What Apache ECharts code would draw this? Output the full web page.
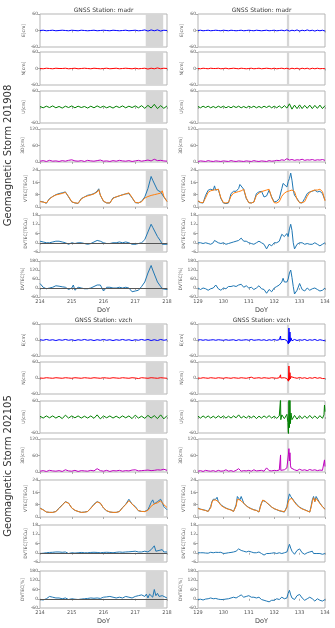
<!DOCTYPE html>
<html><head><meta charset="utf-8">
<script src="https://cdn.jsdelivr.net/npm/echarts@6/dist/echarts.min.js"></script>
<style>html,body{margin:0;padding:0;background:#fff}#c{width:335px;height:628px}</style>
</head><body><div id="c"></div>
<script>
// ---------------- DATA ----------------
const stationNames = ['GNSS Station: madr', 'GNSS Station: vzch'];
const stormLabels = ['Geomagnetic Storm 201908', 'Geomagnetic Storm 202105'];
const yNames = ['E[cm]','N[cm]','U[cm]','3D[cm]','VTEC[TECu]','DVTEC[TECu]','DVTEC[%]'];
const yMins = [-60,-60,-60,0,0,-6,-60];
const yMaxs = [60,60,60,120,24,18,180];
const yIntervals = [60,60,120,60,8,6,60];
const xRangeLeft = [214, 218];
const xRangeRight = [129, 134];
const shadeTL = [217.33, 217.88];
const shadeBL = [217.33, 217.9];
const shadeR = [132.5, 132.59];

// GNSS sample times
const gnssT_L = [214.0,214.1,214.2,214.3,214.4,214.5,214.6,214.7,214.8,214.9,215.0,215.1,215.2,215.3,215.4,215.5,215.6,215.7,215.8,215.9,216.0,216.1,216.2,216.3,216.4,216.5,216.6,216.7,216.8,216.9,217.0,217.1,217.2,217.3,217.4,217.5,217.6,217.7,217.8,217.9,218.0];
const gnssT_TR = [129.0,129.1,129.2,129.3,129.4,129.5,129.6,129.7,129.8,129.9,130.0,130.1,130.2,130.3,130.4,130.5,130.6,130.7,130.8,130.9,131.0,131.1,131.2,131.3,131.4,131.5,131.6,131.7,131.8,131.9,132.0,132.1,132.2,132.3,132.4,132.5,132.6,132.7,132.8,132.9,133.0,133.1,133.2,133.3,133.4,133.5,133.6,133.7,133.8,133.9,134.0];
const gnssT_BR = [129.0,129.1,129.2,129.3,129.4,129.5,129.6,129.7,129.8,129.9,130.0,130.1,130.2,130.3,130.4,130.5,130.6,130.7,130.8,130.9,131.0,131.1,131.2,131.3,131.4,131.5,131.6,131.7,131.8,131.9,132.0,132.1,132.2,132.24,132.25,132.26,132.3,132.4,132.5,132.54,132.56,132.58,132.6,132.62,132.64,132.66,132.7,132.8,132.9,133.0,133.1,133.2,133.3,133.4,133.5,133.6,133.7,133.8,133.9,133.96,133.98,134.0];

// madr 2019 (top-left)
const E_TL = [0,1,-1,0,1,-1,0,1,0,-1,1,0,-1,1,0,-1,0,1,-1,0,1,0,-1,1,0,-1,0,1,-1,0,1,-1,0,2,-2,2,-1,2,-2,1,0];
const N_TL = [0,-1,1,0,-1,1,0,0,1,-1,0,1,-1,0,1,0,-1,1,0,-1,0,1,-1,0,1,-1,0,1,0,-1,1,-1,0,1,-2,1,-1,2,-1,1,0];
const U_TL = [2,-3,3,-2,4,-3,2,-4,3,-2,4,-3,3,-2,2,-4,3,-3,4,-2,3,-3,2,-4,3,-2,4,-3,3,-2,4,-3,5,-5,6,-4,10,-6,5,-5,4];
const D_TL = [3,5,2,6,3,4,2,5,3,6,8,4,3,5,2,6,4,3,5,7,3,4,2,5,3,6,4,3,5,2,4,6,3,5,7,4,10,5,6,4,3];
// madr 2021 (top-right)
const E_TR = [0,1,-1,0,1,-1,0,1,0,-1,1,0,-1,1,0,-1,0,1,-1,0,1,0,-1,1,0,-1,0,1,-1,0,1,-1,0,1,-1,2,-2,1,-1,2,-2,1,-1,2,-1,1,-2,1,-1,1,-2];
const N_TR = [0,-1,1,0,-1,1,0,0,1,-1,0,1,-1,0,1,0,-1,1,0,-1,0,1,-1,0,1,-1,0,1,0,-1,1,-1,0,1,-1,1,-2,1,-1,1,-2,1,-1,1,-2,1,-1,1,-1,0,-1];
const U_TR = [2,-3,3,-2,3,-3,2,-3,3,-2,3,-3,2,-3,3,-2,3,-3,2,-3,3,-2,3,-3,2,-3,3,-2,4,-3,3,-3,4,-4,5,-4,12,-8,7,-6,8,-6,6,-5,7,-6,6,-5,7,-6,5];
const D_TR = [2,4,3,2,5,3,2,4,3,2,4,3,2,5,3,2,4,3,2,4,3,2,5,3,2,4,3,2,5,3,4,6,5,8,6,12,7,9,6,8,7,10,6,8,7,9,6,8,7,9,6];
// vzch 2019 (bottom-left)
const E_BL = [1,-1,2,-1,1,-2,1,-1,2,-1,1,-2,1,-1,2,-1,1,-2,1,-1,2,-1,1,-2,1,-1,2,-1,1,-2,1,-1,2,-1,2,-2,1,-2,2,-1,1];
const N_BL = [0,-1,1,0,-1,1,0,-1,1,0,-1,1,0,-1,1,0,-1,1,0,-1,1,0,-1,1,0,-1,1,0,-1,1,0,-2,1,0,-1,1,0,-1,1,0,-1];
const U_BL = [3,-4,4,-3,4,-4,3,-6,7,-4,4,-3,4,-4,3,-4,4,-5,8,-7,4,-3,4,-4,3,-4,4,-3,4,-6,7,-4,3,-5,6,-4,5,-6,8,-7,5];
const D_BL = [3,5,2,6,4,3,5,2,8,4,3,6,2,5,4,3,6,4,12,5,3,6,2,5,4,6,3,5,4,7,8,4,5,6,7,5,6,8,7,10,6];
// vzch 2021 (bottom-right)
const E_BR = [0,1,-1,1,-1,0,1,-1,1,0,-1,1,-1,0,1,-2,1,-1,0,1,-1,2,-1,0,1,-1,1,-2,1,-1,2,-1,1,2,15,1,-1,2,-2,5,-15,45,-10,30,-5,8,-3,2,-2,1,-1,2,-2,1,-1,2,-2,1,-1,2,-3,1];
const N_BR = [0,-1,1,0,-1,1,0,-1,1,0,-1,1,0,-1,1,0,-1,1,0,-1,1,3,-1,0,1,-1,1,0,-1,1,0,-1,1,1,12,0,-1,1,-2,3,-12,45,-8,20,-3,5,-2,1,-1,2,-1,1,-2,1,-1,2,-1,1,-2,1,-2,0];
const U_BR = [3,-4,4,-3,4,-4,3,-4,4,-3,4,-4,3,-4,4,-3,8,-4,3,-4,4,-3,4,-6,3,-4,4,-3,5,-4,3,-5,4,10,70,-10,8,-6,10,-20,-70,70,-40,70,-25,15,-10,6,-8,5,-6,4,-5,6,-5,4,-6,5,-5,8,45,20];
const D_BR = [3,5,2,6,4,3,5,2,6,3,4,8,3,5,2,6,12,3,5,4,6,3,8,4,5,6,3,15,5,4,6,5,7,8,62,6,10,8,15,20,65,85,40,70,25,15,12,8,5,10,6,8,5,9,6,8,5,7,6,10,44,20];

// TEC sample times
const tecT_TL = [214.0,214.1,214.2,214.3,214.4,214.5,214.6,214.7,214.8,214.85,214.9,215.0,215.05,215.1,215.2,215.3,215.4,215.5,215.6,215.7,215.8,215.85,215.9,216.0,216.05,216.1,216.2,216.3,216.4,216.5,216.6,216.7,216.8,216.85,216.9,217.0,217.1,217.2,217.3,217.4,217.5,217.55,217.6,217.7,217.8,217.85,217.9,218.0];
const vtecObs_TL = [3.7,3.3,2.4,5.5,6.8,8,8.7,9.2,9.8,10.9,6.5,3.3,3.0,2.6,2.3,5.5,6.5,7.6,8,8.7,10.2,11.8,7.6,3.7,3.0,2.6,2.6,5.9,6.5,7.2,8,8.5,8.7,9.8,5.9,2.8,2.6,3.7,6.5,12,19.8,17.4,18,10.9,9.8,10.2,6.5,3.7];
const vtecRef_TL = [3.5,3.2,2.6,5.2,6.8,7.8,8.3,8.8,9.5,10.5,6.8,3.4,3.1,2.7,2.4,5.2,6.5,7.2,7.8,8.5,9.7,11.2,7.8,3.8,3.1,2.7,2.6,5.6,6.6,7.3,7.8,8.5,9.2,10.3,6.2,3.0,2.7,3.4,5.8,6.8,7.5,7.8,8.0,8.5,9.0,10.5,7.0,3.5];
const dvtec_TL = [1,0.5,0,0,0.5,1,1,0.5,0,0.3,-1,0,-0.3,-0.5,0,0,-0.5,-1,-0.5,0.5,1.5,1.8,1,0,-0.3,-0.5,-0.5,0,0,0.5,0,0.5,0,0.2,-1,-1,-0.5,0,2,7,12,10,10.5,4,1,-1,-1.5,-1];
const dvtecPct_TL = [30,5,-5,0,5,15,12,8,5,3,-10,0,20,-15,5,0,-5,-5,0,10,20,30,20,-20,-10,5,5,0,0,5,0,5,0,-5,-25,-20,-15,10,40,100,150,120,120,40,10,-5,-10,-10];

const tecT_TR = [129.0,129.1,129.2,129.3,129.4,129.5,129.6,129.65,129.7,129.8,129.9,130.0,130.1,130.2,130.3,130.4,130.5,130.6,130.65,130.7,130.8,130.9,131.0,131.1,131.2,131.3,131.4,131.5,131.6,131.7,131.8,131.9,132.0,132.1,132.2,132.3,132.35,132.4,132.5,132.55,132.6,132.65,132.7,132.75,132.8,132.85,132.9,133.0,133.05,133.1,133.2,133.3,133.4,133.5,133.6,133.7,133.8,133.9,134.0];
const vtecObs_TR = [3.7,2.8,2.6,7.6,10.9,11.5,10.9,13.7,10.9,11.5,5.5,2.6,2.2,2.6,8.7,10.2,10.2,12,14.6,13.7,11.5,5.5,2.8,2.6,3.3,8.7,9.8,10.2,6.5,7.2,10.9,6.5,3.3,3.7,5.5,12,15.3,14.2,13,16.4,18.5,22,17.4,10.9,7.6,6.5,5.5,2.8,2.7,2.6,5.5,8.7,9.8,10.2,10.9,9.8,10.2,8.7,4.4];
const vtecRef_TR = [4,3,2.8,6,9.5,10.5,11,11.1,11.2,11.5,6,2.8,2.6,3,7,9,9.5,10,10.2,10.5,11.5,6,2.8,2.6,3.2,7.5,9,10,10.5,11,11.5,6,2.8,2.6,3.5,7,8,9,10,10.2,10.5,10.8,11,10.8,10,7.5,5,2.8,2.8,2.8,3.5,7,9.5,10.5,11,11,11.5,10,4];
const dvtec_TR = [0,0,-0.5,0,-0.5,-1,0,1.5,2.4,0,-0.5,0,-1,-0.5,0,0.5,1,1.5,2.5,3,1,1,0,-0.5,-1,0,1,0,-1,-4,-1,-2,0,0,1,5.5,5,4,6,4,9,12,8,0,-4,-3,-1,0,0.5,0,-1,-0.5,-1,-1,0,-1,-2,-1,0];
const dvtecPct_TR = [0,-10,0,-5,-15,-5,0,10,20,-5,-15,0,-5,10,10,15,10,20,22,25,5,15,0,5,-10,0,15,-5,-10,-35,-10,-25,0,10,20,40,65,40,40,60,100,120,70,10,-40,-45,-15,30,10,-10,-20,0,-15,-5,0,-10,-20,-15,0];

const tecT_BL = [214.0,214.1,214.2,214.3,214.4,214.5,214.6,214.7,214.8,214.85,214.9,215.0,215.1,215.2,215.3,215.4,215.5,215.6,215.7,215.8,215.85,215.9,216.0,216.1,216.2,216.3,216.4,216.5,216.6,216.7,216.8,216.85,216.9,217.0,217.1,217.2,217.3,217.35,217.4,217.45,217.5,217.55,217.6,217.65,217.7,217.75,217.8,217.85,217.9,218.0];
const vtecObs_BL = [5.8,4.7,3.2,3,3,3.6,5.8,7.9,10,10.7,9,5.8,4.3,3.6,3,3.2,3.6,5.8,8.3,10,10.7,9,5.8,4,3.2,3,3,3.6,6.2,8.3,11.5,10,8.3,6.8,4,3.6,3.6,4,4.7,7,9.4,11.1,8.5,9,10,11,11.5,9.4,6.8,4.7];
const vtecRef_BL = [5.6,4.6,3.3,3.0,3.0,3.5,5.5,7.6,9.8,10.4,9.0,5.9,4.4,3.6,3.0,3.1,3.5,5.6,8.0,9.8,10.4,9.0,5.9,4.1,3.3,3.0,3.0,3.5,6.0,8.0,10.6,10.0,8.5,6.2,4.2,3.6,3.5,3.8,4.3,5.5,7.0,7.8,8.5,8.8,9.2,9.8,10.5,10.0,8.0,6.2];
const dvtec_BL = [-0.5,-0.3,0,0.2,0.3,0.5,0.5,0.3,0.5,0.3,-0.5,0,-0.2,0,0.2,0,0,0.2,0.3,0.2,0.3,0,0.2,0.3,0.2,0,0.3,0.5,0.3,0.5,0.6,0.5,0.8,1,0.5,0.5,1,0.8,0.5,1.5,2,1.5,4.5,1,2,1.5,1,2,0.5,0.5];
const dvtecPct_BL = [-5,-8,0,15,10,5,5,0,5,3,-5,0,-3,-5,-2,0,2,5,3,5,4,2,10,12,15,10,5,10,5,15,10,8,5,15,20,25,15,30,5,30,40,10,60,20,35,15,15,20,10,5];

const tecT_BR = [129.0,129.1,129.2,129.3,129.4,129.45,129.5,129.55,129.6,129.65,129.7,129.75,129.8,129.9,130.0,130.1,130.2,130.3,130.4,130.45,130.5,130.55,130.6,130.65,130.7,130.8,130.9,131.0,131.1,131.2,131.3,131.4,131.45,131.5,131.55,131.6,131.65,131.7,131.8,131.9,132.0,132.1,132.2,132.3,132.4,132.5,132.55,132.6,132.65,132.7,132.8,132.9,133.0,133.1,133.2,133.3,133.4,133.45,133.5,133.55,133.6,133.65,133.7,133.8,133.9,134.0];
const vtecObs_BR = [5.8,5.1,4.7,4.3,3.6,3.2,6.8,10,11.5,10.5,11.5,12.8,10,7.9,6.8,5.8,5.1,4.7,3.6,3.2,7.9,13.3,12.8,11.1,13.3,9,7.3,6.2,5.4,4.7,4.3,3.2,6.8,9,10.7,11.5,10,10.7,7.9,6.4,5.4,4.7,4,3.6,3.2,6.8,11.5,15,13.3,14.3,10,7.9,6.4,5.4,4.7,4,3.2,6.8,11.1,13.3,10,13.3,12.2,9,6.8,5.1];
const vtecRef_BR = [5.5,5.0,4.6,4.2,3.6,3.3,6.0,9.5,11.0,10.5,11.0,12.0,10.0,7.6,6.4,5.6,5.0,4.5,3.6,3.3,7.0,11.5,12.0,11.0,12.0,9.0,7.2,6.0,5.2,4.6,4.2,3.3,6.0,9.0,11.0,11.5,10.2,10.5,8.0,6.5,5.4,4.8,4.2,3.8,3.4,6.0,9.5,11.5,11.0,12.0,9.5,7.5,6.2,5.2,4.6,3.9,3.2,6.0,10.0,12.5,10.0,12.0,11.5,8.8,6.6,5.0];
const dvtec_BR = [0,0,0,-0.2,-0.3,-0.2,0.3,0.2,0,0,0.3,0.5,0.2,0.3,-0.5,-0.3,0,0.2,0.5,0.3,1,2,2.5,1.8,1.5,1,0.5,1,0.5,0,0,0.5,0.3,-0.5,-1,-1.5,-0.8,-0.5,-0.5,-0.3,0,-0.5,0,-0.5,0,0.5,3,5.5,3,1,-1,1.5,2.5,0,-1,0,0.5,0.8,1,-0.5,-1,-0.5,-0.5,-0.5,-1,-0.5];
const dvtecPct_BR = [-5,-3,-8,-2,0,-2,5,3,0,-3,2,-5,-3,-5,-5,-2,0,5,10,8,5,15,15,20,25,10,15,20,10,10,5,10,5,-5,-5,-10,-8,-15,-20,-10,-10,0,-5,10,0,5,35,55,25,5,-5,20,28,5,-10,0,10,5,0,-5,-15,-5,0,-10,-15,-5];

// ---------------- LAYOUT / STYLE ----------------
const colLeft = [40, 198];
const colWidth = 127;
const halfTops = [[14,52,91,129,170,215,261],[324,362,401,439,480,525,571]];
const halfHeights = [[33,33,32,33,37,37,36],[32,32,32,33,37,37,37]];
const colors = {E:'#0000ff', N:'#ff0000', U:'#008000', D:'#bf00bf', obs:'#1f77b4', ref:'#ff7f0e'};
const FONT = 'DejaVu Sans';

const blocks = [
  {col:0, half:0, xr:xRangeLeft, shade:shadeTL, gT:gnssT_L, E:E_TL, N:N_TL, U:U_TL, D:D_TL, tT:tecT_TL, vo:vtecObs_TL, vr:vtecRef_TL, dv:dvtec_TL, dvp:dvtecPct_TL, zero:true},
  {col:1, half:0, xr:xRangeRight, shade:shadeR, gT:gnssT_TR, E:E_TR, N:N_TR, U:U_TR, D:D_TR, tT:tecT_TR, vo:vtecObs_TR, vr:vtecRef_TR, dv:dvtec_TR, dvp:dvtecPct_TR, zero:false},
  {col:0, half:1, xr:xRangeLeft, shade:shadeBL, gT:gnssT_L, E:E_BL, N:N_BL, U:U_BL, D:D_BL, tT:tecT_BL, vo:vtecObs_BL, vr:vtecRef_BL, dv:dvtec_BL, dvp:dvtecPct_BL, zero:true},
  {col:1, half:1, xr:xRangeRight, shade:shadeR, gT:gnssT_BR, E:E_BR, N:N_BR, U:U_BR, D:D_BR, tT:tecT_BR, vo:vtecObs_BR, vr:vtecRef_BR, dv:dvtec_BR, dvp:dvtecPct_BR, zero:false}
];

const grid = [], xAxis = [], yAxis = [], series = [];
const tickStyle = {show:true, length:2, lineStyle:{color:'#999', width:0.8}};

function line(idx, t, v, color, extra) {
  return Object.assign({
    type:'line', xAxisIndex:idx, yAxisIndex:idx,
    data: t.map((x,i)=>[x, v[i]]),
    showSymbol:false, symbol:'none', silent:true, animation:false, z:3,
    lineStyle:{color:color, width:1}, itemStyle:{color:color}
  }, extra || {});
}

blocks.forEach(b => {
  for (let r = 0; r < 7; r++) {
    const idx = grid.length;
    const gnss = r < 4;
    grid.push({left: colLeft[b.col], top: halfTops[b.half][r], width: colWidth, height: halfHeights[b.half][r],
      show:true, borderColor:'#b5b5b5', borderWidth:1, containLabel:false});
    xAxis.push({type:'value', gridIndex:idx, min:b.xr[0], max:b.xr[1], interval:1,
      axisLine:{show:false}, axisTick:tickStyle, splitLine:{show:false},
      axisLabel:{show: r===6, fontSize:5, color:'#555', margin:2, fontFamily:FONT},
      name: r===6 ? 'DoY' : '', nameLocation:'middle', nameGap:10,
      nameTextStyle:{fontSize:6.5, color:'#444', fontFamily:FONT}});
    yAxis.push({type:'value', gridIndex:idx, min:yMins[r], max:yMaxs[r], interval:yIntervals[r],
      axisLine:{show:false}, axisTick:tickStyle, splitLine:{show:false},
      axisLabel:{fontSize:4.5, color:'#555', margin:2, fontFamily:FONT},
      name: yNames[r], nameLocation:'middle', nameGap: gnss ? 14 : 8,
      nameTextStyle:{fontSize:4.5, color:'#555', fontFamily:FONT}});
    const shadeArea = {silent:true, itemStyle:{color:'#d6d6d6'}, data:[[{xAxis:b.shade[0]},{xAxis:b.shade[1]}]]};
    const zeroLine = {silent:true, symbol:['none','none'], label:{show:false},
      lineStyle:{color:'#555', width:1, type:'solid'}, data:[{yAxis:0}]};
    if (r === 0) series.push(line(idx, b.gT, b.E, colors.E, {markArea:shadeArea}));
    if (r === 1) series.push(line(idx, b.gT, b.N, colors.N, {markArea:shadeArea}));
    if (r === 2) series.push(line(idx, b.gT, b.U, colors.U, {markArea:shadeArea}));
    if (r === 3) series.push(line(idx, b.gT, b.D, colors.D, {markArea:shadeArea}));
    if (r === 4) {
      series.push(line(idx, b.tT, b.vo, colors.obs, {markArea:shadeArea}));
      series.push(line(idx, b.tT, b.vr, colors.ref, {z:4}));
    }
    if (r === 5) series.push(line(idx, b.tT, b.dv, colors.obs, b.zero ? {markArea:shadeArea, markLine:zeroLine} : {markArea:shadeArea}));
    if (r === 6) series.push(line(idx, b.tT, b.dvp, colors.obs, b.zero ? {markArea:shadeArea, markLine:zeroLine} : {markArea:shadeArea}));
  }
});

const graphic = [];
[0,1].forEach(h => {
  [0,1].forEach(c => {
    graphic.push({type:'text', x: colLeft[c] + colWidth/2, y: halfTops[h][0] - 4,
      style:{text: stationNames[h], fontSize:6, fill:'#333', fontFamily:FONT, align:'center', verticalAlign:'middle'}});
  });
  const midY = (halfTops[h][0] + halfTops[h][6] + halfHeights[h][6]) / 2;
  graphic.push({type:'text', x: 8, y: midY, rotation: Math.PI/2,
    style:{text: stormLabels[h], fontSize:10, fill:'#333', fontFamily:FONT, align:'center', verticalAlign:'middle'}});
});

const chart = echarts.init(document.getElementById('c'), null, {renderer:'canvas'});
chart.setOption({animation:false, backgroundColor:'#fff', grid, xAxis, yAxis, series, graphic});
</script></body></html>
